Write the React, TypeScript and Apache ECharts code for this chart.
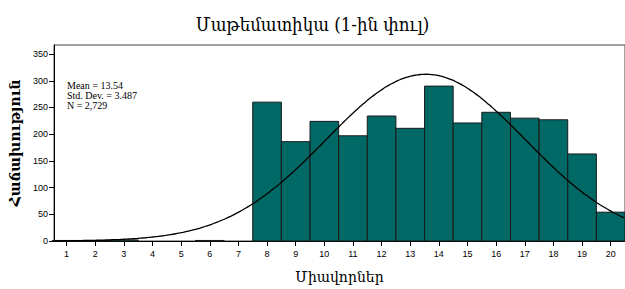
import React, { useEffect, useRef } from "react";
import * as echarts from "echarts";

const TITLE = "Մաթեմատիկա (1-ին փուլ)";
const X_NAME = "Միավորներ";
const Y_NAME = "Հաճախություն";
const SCORES = [1, 2, 3, 4, 5, 6, 7, 8, 9, 10, 11, 12, 13, 14, 15, 16, 17, 18, 19, 20];
const COUNTS = [1, 1, 2, 0, 0, 1, 0, 260, 186, 224, 197, 234, 211, 290, 221, 241, 230, 227, 163, 54];
const Y_TICKS = [0, 50, 100, 150, 200, 250, 300, 350];
const MEAN = 13.54;
const SD = 3.487;
const N = 2729;
const STATS_LINES = ["Mean = 13.54", "Std. Dev. = 3.487", "N = 2,729"];

const X_MIN = 0.56;
const X_MAX = 20.5;

export default function App() {
  const ref = useRef<HTMLDivElement>(null);
  useEffect(() => {
    if (!ref.current) return;
    const chart = echarts.init(ref.current, undefined, { renderer: "svg" });
    const bars = SCORES.map((s, i) => [s, COUNTS[i]]).filter((d) => d[1] > 0);
    const curve: number[][] = [];
    for (let x = X_MIN; x <= X_MAX + 1e-9; x += 0.1) {
      const z = (x - MEAN) / SD;
      curve.push([x, (N / (SD * Math.sqrt(2 * Math.PI))) * Math.exp(-0.5 * z * z)]);
    }
    const tickFont = "'Liberation Sans Narrow', 'Liberation Sans', Arial, sans-serif";
    chart.setOption({
      animation: false,
      backgroundColor: "#ffffff",
      title: {
        text: TITLE,
        left: "center",
        top: 10,
        textStyle: { fontFamily: "'DejaVu Serif Condensed', 'DejaVu Serif', serif", fontSize: 18.5, fontWeight: "normal", color: "#000" },
      },
      grid: {
        left: 46,
        top: 45,
        width: (X_MAX - X_MIN) * 29.25,
        height: 198,
        show: true,
        borderColor: "#444",
        borderWidth: 1,
        backgroundColor: "#fff",
      },
      xAxis: {
        type: "value",
        min: X_MIN,
        max: X_MAX,
        name: X_NAME,
        nameLocation: "middle",
        nameGap: 29,
        nameTextStyle: { fontFamily: "'DejaVu Serif', serif", fontSize: 14, color: "#000" },
        axisLine: { show: true, onZero: false, lineStyle: { color: "#000", width: 1 } },
        axisTick: { show: true, length: 5, lineStyle: { color: "#000" }, customValues: SCORES },
        axisLabel: { color: "#000", fontSize: 9, fontFamily: tickFont, margin: 8, customValues: SCORES },
        splitLine: { show: false },
      },
      yAxis: {
        type: "value",
        min: 0,
        max: 367,
        name: Y_NAME,
        nameLocation: "middle",
        nameGap: 32,
        nameRotate: 90,
        nameTextStyle: { fontFamily: "'DejaVu Serif', serif", fontSize: 14, fontWeight: "bold", color: "#000" },
        axisLine: { show: true, lineStyle: { color: "#000", width: 1 } },
        axisTick: { show: true, length: 5, lineStyle: { color: "#000" }, customValues: Y_TICKS },
        axisLabel: { color: "#000", fontSize: 9, fontFamily: tickFont, margin: 6, customValues: Y_TICKS },
        splitLine: { show: false },
      },
      graphic: [
        {
          type: "text",
          left: 67,
          top: 80,
          z: 100,
          style: {
            text: STATS_LINES.join("\n"),
            fill: "#000",
            font: "10px 'Liberation Serif', 'Times New Roman', serif",
            lineHeight: 10,
          },
        },
      ],
      series: [
        {
          type: "custom",
          data: bars,
          z: 2,
          renderItem: (params: any, api: any) => {
            const x = api.value(0);
            const y = api.value(1);
            const p0 = api.coord([x - 0.5, y]);
            const p1 = api.coord([x + 0.5, 0]);
            return {
              type: "rect",
              shape: { x: p0[0], y: p0[1], width: p1[0] - p0[0], height: p1[1] - p0[1] },
              style: { fill: "#006966", stroke: "#1a1a1a", lineWidth: 1 },
            };
          },
        },
        {
          type: "line",
          data: curve,
          showSymbol: false,
          smooth: true,
          z: 5,
          lineStyle: { color: "#000", width: 1.3 },
        },
      ],
    });
    return () => chart.dispose();
  }, []);
  return (
    <div
      ref={ref}
      style={{ position: "fixed", left: 0, top: 0, width: 625, height: 289 }}
    />
  );
}
